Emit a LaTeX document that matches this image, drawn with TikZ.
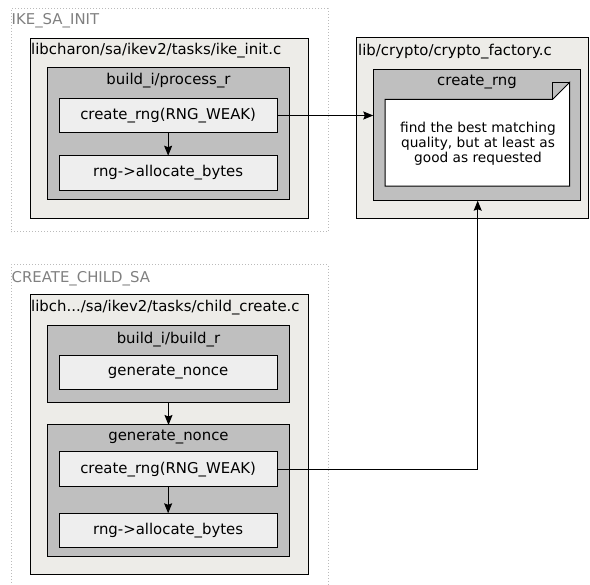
\documentclass[tikz,border=0pt]{standalone}
\usepackage{fontspec}
\setmainfont{DejaVu Sans}
\usetikzlibrary{arrows.meta}
\definecolor{filebg}{RGB}{237,236,232}
\definecolor{funcbg}{RGB}{191,191,191}
\definecolor{callbg}{RGB}{238,238,238}
\definecolor{clusterline}{RGB}{187,187,187}
\definecolor{clustertext}{RGB}{128,128,128}
\tikzset{
  box/.style={anchor=north west, inner sep=0pt, outer sep=0pt, draw=black, line width=1pt},
  clusterbox/.style={anchor=north west, inner sep=0pt, outer sep=0pt, draw=clusterline, line width=1pt, dotted},
  filebox/.style={box, fill=filebg},
  funcbox/.style={box, fill=funcbg},
  callbox/.style={box, fill=callbg, font=\fontsize{14.9}{17}\selectfont},
  boxlabel/.style={inner sep=0pt, font=\fontsize{14.9}{17}\selectfont},
  clusterlabel/.style={inner sep=0pt, anchor=west, text=clustertext, font=\fontsize{14.9}{17}\selectfont},
  notetext/.style={inner sep=0pt, align=center, font=\fontsize{13.7}{15}\selectfont},
  flow/.style={draw=black, line width=1pt, -{Stealth[length=10pt,width=8pt,inset=1.5pt]}},
}
\begin{document}
\begin{tikzpicture}[x=1pt,y=-1pt]
\useasboundingbox (0,0) rectangle (590,585);
% ---------- IKE_SA_INIT ----------
\node[clusterbox, minimum width=317pt, minimum height=223pt] (ikesa) at (11,9) {};
\node[clusterlabel] (ikesalbl) at (11.5,20.5) {IKE\_SA\_INIT};
\node[filebox, minimum width=278pt, minimum height=180pt] (ikefile) at (30.3,38.3) {};
\node[boxlabel, anchor=west] (ikefilelbl) at (31,51) {libcharon/sa/ikev2/tasks/ike\_init.c};
\node[funcbox, minimum width=241.6pt, minimum height=131.6pt] (ikefunc) at (47.7,67.7) {};
\node[boxlabel] (ikefunclbl) at (168.5,80.5) {build\_i/process\_r};
\node[callbox, minimum width=218.3pt, minimum height=34.4pt] (ikerng) at (59,98.3) {create\_rng(RNG\_WEAK)};
\node[callbox, minimum width=218.3pt, minimum height=34.6pt] (ikealloc) at (59,155.7) {rng->allocate\_bytes};
% ---------- crypto_factory ----------
\node[filebox, minimum width=232pt, minimum height=181pt] (cfile) at (356,37.3) {};
\node[boxlabel, anchor=west] (cfilelbl) at (358,51.5) {lib/crypto/crypto\_factory.c};
\node[funcbox, minimum width=207.4pt, minimum height=131.4pt] (cfunc) at (373.3,69.3) {};
\node[boxlabel] (cfunclbl) at (477,82) {create\_rng};
\node[anchor=north west, inner sep=0pt, minimum width=184.3pt, minimum height=86.4pt] (note) at (385,99.3) {};
\fill[white] (note.north west) -- ([xshift=-17pt]note.north east) -- ([yshift=17pt]note.north east) -- (note.south east) -- (note.south west) -- cycle;
\draw[line width=1pt, line join=miter] (note.north west) -- ([xshift=-17pt]note.north east) -- ([yshift=17pt]note.north east) -- (note.south east) -- (note.south west) -- cycle;
\draw[line width=1pt] ([xshift=-17pt]note.north east) -- ([xshift=-17pt,yshift=17pt]note.north east) -- ([yshift=17pt]note.north east);
\node[notetext] (notetxt) at (478,143.3) {find the best matching\\quality, but at least as\\good as requested};
% ---------- CREATE_CHILD_SA ----------
\draw[draw=clusterline, line width=1pt, dotted] (11,586) -- (11,265) -- (328,265) -- (328,586);
\coordinate (childsa) at (11,265);
\node[clusterlabel] (childsalbl) at (11.5,278.5) {CREATE\_CHILD\_SA};
\node[filebox, minimum width=278pt, minimum height=280pt] (chfile) at (30.3,295) {};
\node[boxlabel, anchor=west] (chfilelbl) at (31,308) {libch.../sa/ikev2/tasks/child\_create.c};
\node[funcbox, minimum width=241.6pt, minimum height=76.6pt] (chbuild) at (47.7,325.7) {};
\node[boxlabel] (chbuildlbl) at (168.5,339.5) {build\_i/build\_r};
\node[callbox, minimum width=218.3pt, minimum height=33.6pt] (chgen) at (59,355.7) {generate\_nonce};
\node[funcbox, minimum width=241.6pt, minimum height=131.7pt] (chnonce) at (47.7,425) {};
\node[boxlabel] (chnoncelbl) at (168.5,437) {generate\_nonce};
\node[callbox, minimum width=218.3pt, minimum height=35pt] (chrng) at (59,451.7) {create\_rng(RNG\_WEAK)};
\node[callbox, minimum width=218.3pt, minimum height=34pt] (challoc) at (59,513.3) {rng->allocate\_bytes};
% ---------- connectors ----------
\draw[flow] (ikerng.south) -- (ikealloc.north);
\draw[flow] (ikerng.east) -- (ikerng.east -| cfunc.west);
\draw[flow] (chbuild.south) -- (chnonce.north);
\draw[flow] (chrng.south) -- (challoc.north);
\coordinate (bend) at (477.7,469.2);
\draw[flow] (chrng.east) -- (bend) -- (bend |- cfunc.south);
\end{tikzpicture}
\end{document}
